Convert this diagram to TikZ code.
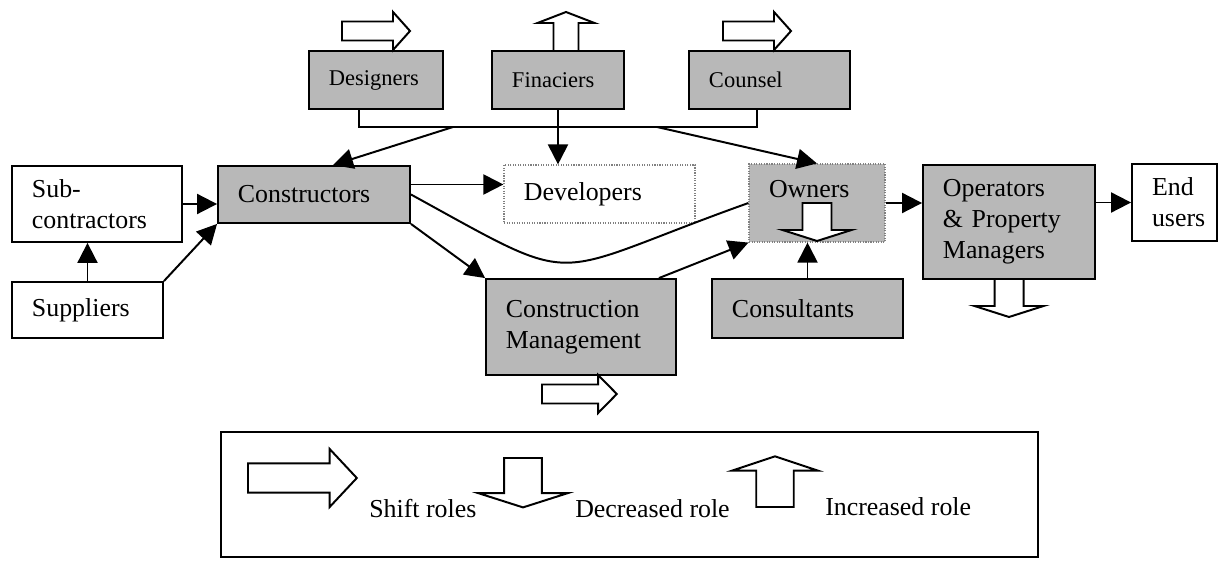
\documentclass[tikz,border=0pt]{standalone}
\usepackage{fontspec}
\setmainfont{Liberation Serif}
\usetikzlibrary{arrows.meta}
\hyphenpenalty=10000

\begin{document}
\begin{tikzpicture}[x=0.025cm, y=-0.025cm,
	actor/.style={draw, line width=1.3pt, fill=black!28, align=left, inner xsep=0.5cm, inner ysep=0pt, font=\fontsize{18.4}{22}\selectfont},
	outside/.style={actor, fill=white},
	top actor/.style={actor, font=\fontsize{16}{19}\selectfont},
	link/.style={line width=1.4pt, -{Triangle[length=0.5cm, width=0.5cm]}},
	role/.style={draw, fill=white, line width=1.4pt},
	keytext/.style={anchor=base west, inner sep=0pt, font=\fontsize{18.4}{22}\selectfont},
	pics/shift role/.style={code={\path[role] (0,-9.5) -- (51,-9.5) -- (51,-19) -- (68,0) -- (51,19) -- (51,9.5) -- (0,9.5) -- cycle;}},
	pics/less role/.style={code={\path[role] (-14.5,0) -- (14.5,0) -- (14.5,27) -- (34.5,27) -- (0,38) -- (-34.5,27) -- (-14.5,27) -- cycle;}},
	pics/more role/.style={code={\path[role] (-12.5,0) -- (12.5,0) -- (12.5,-28) -- (28.5,-28) -- (0,-39) -- (-28.5,-28) -- (-12.5,-28) -- cycle;}}]
	\useasboundingbox (0,0) rectangle (1220,563);

	% top row
	\node[top actor, text width=2.35cm, minimum height=1.45cm] (des) at (376,80) {Designers};
	\node[top actor, text width=2.3cm, minimum height=1.45cm] (fin) at (558,80) {Finaciers};
	\node[top actor, text width=3.025cm, minimum height=1.45cm] (cou) at (769.5,80) {Counsel};

	% middle rows
	\node[outside, text width=3.25cm, minimum height=1.9cm] (sub) at (97,204) {Sub-\\contractors};
	\node[actor, text width=3.8cm, minimum height=1.425cm] (con) at (314,194.5) {Constructors};
	\node[outside, text width=2.775cm, minimum height=1.4cm] (sup) at (87.5,310) {Suppliers};
	\node[outside, draw=gray, line width=0.8pt, densely dotted, text width=3.775cm, minimum height=1.45cm] (dev) at (599.5,194) {Developers};
	\node[actor, draw=gray, line width=0.8pt, densely dotted, text width=2.4cm, text height=0.85cm, text depth=1.1cm] (own) at (817,203) {Owners};
	\node[actor, text width=3.75cm, minimum height=2.4cm] (cm) at (581,327) {Construction\\Management};
	\node[actor, text width=3.775cm, minimum height=1.475cm] (cst) at (807.5,308.5) {Consultants};
	\node[actor, text width=3.3cm, minimum height=2.85cm] (ops) at (1009,222) {Operators\\\& Property\\Managers};
	\node[outside, text width=1.125cm, minimum height=1.925cm] (end) at (1174.5,202.5) {End\\users};

	% bus under the top row
	\coordinate (busl) at (359,127);
	\coordinate (busr) at (757,127);
	\coordinate (busa) at (453,127);
	\coordinate (busb) at (657,127);
	\draw[line width=1.4pt] (des.south -| busl) -- (busl) -- (busr) -- (cou.south -| busr);
	\draw[link] (fin.south) -- (fin.south |- dev.north);
	\draw[link] (busa) -- ([xshift=0.475cm]con.north);
	\draw[link] (busb) -- (own.north);

	% connectors
	\draw[link] (sub.east) -- (sub.east -| con.west);
	\draw[link] (sup.north) -- (sup.north |- sub.south);
	\draw[link] (sup.north east) -- (con.south west);
	\draw[link] ([yshift=0.25cm]con.east) -- ([yshift=0.25cm]con.east -| dev.west);
	\draw[line width=1.4pt] (con.east) .. controls (587,291) and (541,277) .. (own.west);
	\draw[link] (con.south east) -- (cm.north west);
	\draw[link] ([xshift=-0.45cm]cm.north east) -- (own.south west);
	\draw[link] (cst.north) -- (cst.north |- own.south);
	\draw[link] (own.east) -- (own.east -| ops.west);
	\draw[link] (ops.east |- end.west) -- (end.west);

	% role arrows
	\pic at (342,31) {shift role};
	\pic at (723,31) {shift role};
	\pic at (566,51) {more role};
	\pic at (817,203) {less role};
	\pic at (1009,279) {less role};
	\pic[xscale=1.1] at (542,394) {shift role};

	% legend
	\node[draw, line width=1.2pt, minimum width=20.425cm, minimum height=3.125cm, inner sep=0pt] (key) at (629.5,494.5) {};
	\pic[xscale=1.6, yscale=1.53] at (248,478) {shift role};
	\node[keytext] (keyshift) at (369,517) {Shift roles};
	\pic[scale=1.3] at (523,458) {less role};
	\node[keytext] (keyless) at (575,517) {Decreased role};
	\pic[xscale=1.5, yscale=1.3] at (775,507) {more role};
	\node[keytext] (keymore) at (825,515) {Increased role};
\end{tikzpicture}
\end{document}
